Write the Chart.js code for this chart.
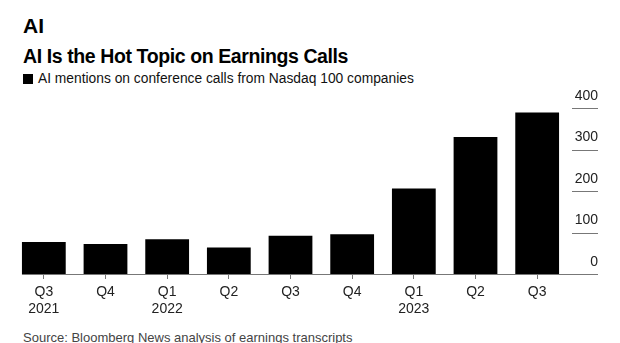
<!DOCTYPE html>
<html>
<head>
<meta charset="utf-8">
<script src="https://cdn.jsdelivr.net/npm/chart.js@4.4.0/dist/chart.umd.min.js"></script>
<style>
  html, body { margin: 0; padding: 0; background: #fff; }
  body { width: 620px; height: 343px; position: relative; overflow: hidden; font-family: "Liberation Sans", Arial, sans-serif; }
  .txt { position: absolute; left: 23px; white-space: nowrap; }
  #kicker { top: 15px; font-size: 21px; line-height: 21px; font-weight: bold; color: #000; }
  #title { top: 46px; font-size: 19.5px; line-height: 20px; font-weight: bold; color: #000; letter-spacing: -0.4px; }
  #sub { top: 72px; font-size: 13.8px; line-height: 14px; color: #111; }
  #sub .sq { display: inline-block; width: 10px; height: 10px; background: #000; margin-right: 5px; vertical-align: -1px; }
  #source { top: 331px; font-size: 13px; line-height: 13px; color: #444; }
  #wrap { position: absolute; left: 0; top: 0; width: 620px; height: 343px; }
</style>
</head>
<body>
<div class="txt" id="kicker">AI</div>
<div class="txt" id="title">AI Is the Hot Topic on Earnings Calls</div>
<div class="txt" id="sub"><span class="sq"></span>AI mentions on conference calls from Nasdaq 100 companies</div>
<div class="txt" id="source">Source: Bloomberg News analysis of earnings transcripts</div>
<div id="wrap"><canvas id="chart"></canvas></div>
<script>
var quarters = [["Q3", "2021"], ["Q4"], ["Q1", "2022"], ["Q2"], ["Q3"], ["Q4"], ["Q1", "2023"], ["Q2"], ["Q3"]];
var mentions = [77, 72, 84, 64, 92, 96, 206, 330, 389];
var yTicks = [0, 100, 200, 300, 400];

var lineColor = "#777";

// short tick lines on the right and the zero line under the bars
var axisLines = {
    id: "axisLines",
    beforeDatasetsDraw: function (chart) {
        var ctx = chart.ctx;
        var area = chart.chartArea;
        var y = chart.scales.y;
        var first = chart.getDatasetMeta(0).data[0];
        ctx.save();
        ctx.strokeStyle = lineColor;
        ctx.lineWidth = 1;
        y.ticks.forEach(function (t) {
            var py = Math.round(y.getPixelForValue(t.value)) + 0.5;
            var x0 = t.value === 0 ? first.x - first.width / 2 : area.right + 4;
            ctx.beginPath();
            ctx.moveTo(x0, py);
            ctx.lineTo(area.right + 30, py);
            ctx.stroke();
        });
        ctx.restore();
    }
};

var ctx = document.getElementById("chart").getContext("2d");
var chart = new Chart(ctx, {
    type: "bar",
    data: {
        labels: quarters,
        datasets: [
            {
                label: "AI mentions on conference calls from Nasdaq 100 companies",
                data: mentions,
                backgroundColor: "#000",
                borderWidth: 0,
                barPercentage: 0.71,
                categoryPercentage: 1,
            },
        ],
    },
    options: {
        responsive: true,
        maintainAspectRatio: false,
        animation: false,
        layout: {
            padding: { left: 13, right: 22, top: 108, bottom: 21 },
        },
        plugins: {
            legend: { display: false },
            tooltip: { enabled: false },
            title: { display: false },
        },
        scales: {
            x: {
                grid: {
                    display: true,
                    drawOnChartArea: false,
                    drawTicks: true,
                    tickLength: 5,
                    offset: false,
                    color: lineColor,
                },
                border: { display: false },
                ticks: {
                    color: "#222",
                    padding: 4,
                    maxRotation: 0,
                    autoSkip: false,
                    font: { family: "Liberation Sans", size: 14, lineHeight: 1.25 },
                },
            },
            y: {
                position: "right",
                min: 0,
                max: 400,
                afterBuildTicks: function (scale) {
                    scale.ticks = yTicks.map(function (v) { return { value: v }; });
                },
                afterFit: function (scale) {
                    scale.width = 30;
                },
                grid: { display: false, drawTicks: false },
                border: { display: false },
                ticks: {
                    color: "#222",
                    crossAlign: "far",
                    padding: 7,
                    labelOffset: -12,
                    font: { family: "Liberation Sans", size: 14 },
                },
            },
        },
    },
    plugins: [axisLines],
});
</script>
</body>
</html>
